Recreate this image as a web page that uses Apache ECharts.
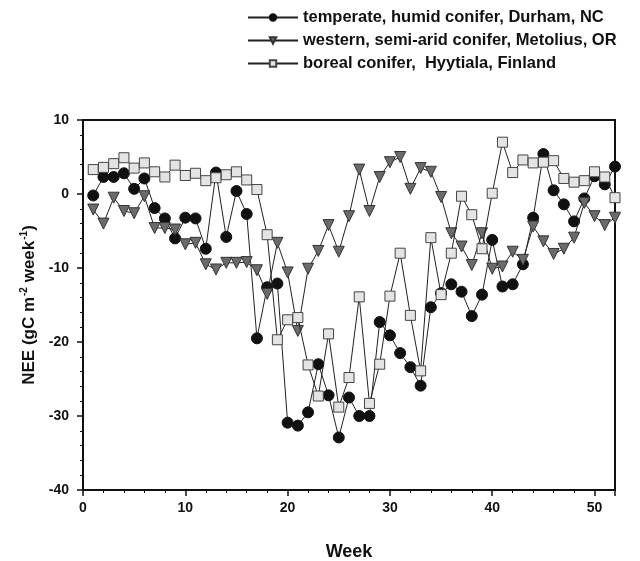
<!DOCTYPE html>
<html>
<head>
<meta charset="utf-8">
<script src="https://cdn.jsdelivr.net/npm/echarts@6/dist/echarts.min.js"></script>
<style>
html,body{margin:0;padding:0;background:#fff;}
#chart{width:640px;height:561px;}
</style>
</head>
<body>
<div id="chart"></div>
<script>
var weeks = [1,2,3,4,5,6,7,8,9,10,11,12,13,14,15,16,17,18,19,20,21,22,23,24,25,26,27,28,29,30,31,32,33,34,35,36,37,38,39,40,41,42,43,44,45,46,47,48,49,50,51,52];
var durham = [-0.2,2.3,2.3,2.8,0.7,2.1,-1.9,-3.3,-6.0,-3.2,-3.3,-7.4,2.9,-5.8,0.4,-2.7,
  -19.5,-12.6,-12.1,-30.9,-31.3,-29.5,-23.0,-27.2,-32.9,-27.5,-30.0,-30.0,-17.3,-19.1,-21.5,-23.4,-25.9,-15.3,
  -13.4,-12.2,-13.2,-16.5,-13.6,-6.2,-12.5,-12.2,-9.5,-3.2,5.4,0.5,-1.4,-3.7,-0.6,2.4,1.3,3.7];
var metolius = [-2.1,-4.0,-0.5,-2.3,-2.6,-0.3,-4.6,-4.6,-4.8,-6.8,-6.6,-9.5,-10.2,-9.3,-9.3,-9.2,
  -10.3,-13.5,-6.6,-10.6,-18.5,-10.1,-7.7,-4.2,-7.8,-3.0,3.3,-2.3,2.3,4.3,5.0,0.7,3.5,3.0,
  -0.4,-5.3,-7.1,-9.6,-5.3,-10.1,-9.8,-7.8,-8.9,-4.4,-6.4,-8.1,-7.4,-5.9,-1.2,-3.0,-4.2,-3.2];
var hyytiala = [3.3,3.6,4.1,4.9,3.5,4.2,3.0,2.3,3.9,2.5,2.8,1.8,2.2,2.6,3.0,1.9,0.6,
  -5.5,-19.7,-17.0,-16.7,-23.1,-27.3,-18.9,-28.8,-24.8,-13.9,-28.3,-23.0,-13.8,-8.0,-16.4,-23.9,-5.9,
  -13.6,-8.0,-0.3,-2.8,-7.4,0.1,7.0,2.9,4.6,4.2,4.3,4.5,2.1,1.6,1.8,3.0,2.3,-0.5];
var seriesNames = ['temperate, humid conifer, Durham, NC','western, semi-arid conifer, Metolius, OR','boreal conifer,  Hyytiala, Finland'];
var xTitle = 'Week';

function pairs(v){ return weeks.map(function(w,i){ return [w, v[i]]; }); }

var chart = echarts.init(document.getElementById('chart'));
var font = 'Liberation Sans, Arial, sans-serif';
chart.setOption({
  animation:false,
  backgroundColor:'#fff',
  grid:{left:83,right:25,top:120,bottom:71,show:true,borderColor:'#111',borderWidth:2,backgroundColor:'transparent',
        containLabel:false,outerBoundsMode:'none'},
  legend:{
    orient:'vertical', left:242, top:4, itemGap:6, itemWidth:50, itemHeight:8,
    textStyle:{fontFamily:font,fontWeight:'bold',fontSize:16.5,color:'#111'},
    data:seriesNames
  },
  xAxis:{
    type:'value', min:0, max:52, interval:10,
    name:xTitle, nameLocation:'middle', nameGap:53,
    nameTextStyle:{fontFamily:font,fontWeight:'bold',fontSize:18,color:'#111'},
    axisLine:{onZero:false,lineStyle:{color:'#111',width:1.5}},
    axisTick:{length:6,lineStyle:{color:'#111',width:1.5}},
    minorTick:{show:true,splitNumber:5,length:3,lineStyle:{color:'#111'}},
    splitLine:{show:false},
    axisLabel:{fontFamily:font,fontWeight:'bold',fontSize:14,color:'#111',margin:11,showMaxLabel:false}
  },
  yAxis:{
    type:'value', min:-40, max:10, interval:10,
    name:'{b|NEE (gC m}{s|-2}{b| week}{s|-1}{b|)}', nameLocation:'middle', nameGap:42, nameRotate:90,
    nameTextStyle:{fontFamily:font,fontWeight:'bold',fontSize:17,color:'#111',
      rich:{b:{fontFamily:font,fontWeight:'bold',fontSize:17,color:'#111',lineHeight:20},
            s:{fontFamily:font,fontWeight:'bold',fontSize:10,color:'#111',verticalAlign:'top',lineHeight:20,padding:[0,0,0,1]}}},
    axisLine:{onZero:false,lineStyle:{color:'#111',width:1.5}},
    axisTick:{length:6,lineStyle:{color:'#111',width:1.5}},
    minorTick:{show:true,splitNumber:5,length:3,lineStyle:{color:'#111'}},
    splitLine:{show:false},
    axisLabel:{fontFamily:font,fontWeight:'bold',fontSize:14,color:'#111',margin:14}
  },
  series:[
    {name:seriesNames[0],type:'line',data:pairs(durham),symbol:'circle',symbolSize:11,
     lineStyle:{color:'#222',width:1},itemStyle:{color:'#111',borderColor:'#111',borderWidth:1},z:2},
    {name:seriesNames[1],type:'line',data:pairs(metolius),symbol:'triangle',symbolRotate:180,symbolSize:11,
     lineStyle:{color:'#222',width:1},itemStyle:{color:'#6b6b6b',borderColor:'#333',borderWidth:1},z:3},
    {name:seriesNames[2],type:'line',data:pairs(hyytiala),symbol:'rect',symbolSize:10,
     lineStyle:{color:'#222',width:1},itemStyle:{color:'#e4e4e4',borderColor:'#444',borderWidth:1},z:4}
  ]
});
</script>
</body>
</html>
